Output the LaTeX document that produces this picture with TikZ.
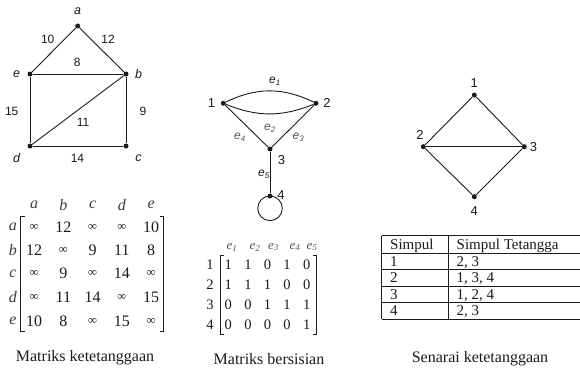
\documentclass[tikz,border=0pt]{standalone}
\usepackage{fontspec}
\setmainfont{Liberation Serif}
\newfontfamily\lsans{Liberation Sans}
\usetikzlibrary{positioning}
\definecolor{Ink}{HTML}{1A1A1A}
\definecolor{Soft}{HTML}{5A5A5A}
\newcommand\tak{{\fontsize{12.5}{14}\selectfont ∞}}
\tikzset{
  vtx/.style={circle,fill=Ink,inner sep=0pt,minimum size=5pt},
  edge/.style={draw=Ink,line width=0.9pt},
  glabel/.style={font=\lsans\fontsize{12}{14}\selectfont,text=Ink,inner sep=0pt},
  vlabel/.style={font=\lsans\itshape\fontsize{12.5}{14}\selectfont,text=Ink,inner sep=0pt},
  nlabel/.style={font=\lsans\fontsize{13}{15}\selectfont,text=Ink,inner sep=0pt},
  elabel/.style={font=\lsans\itshape\fontsize{12}{14}\selectfont,text=Ink,inner sep=0pt},
  mentry/.style={font=\fontsize{16}{18}\selectfont,text=Ink,inner sep=0pt},
  mhead/.style={font=\itshape\fontsize{16}{18}\selectfont,text=Ink!85,inner sep=0pt},
  bentry/.style={font=\fontsize{14.5}{16}\selectfont,text=Ink,inner sep=0pt},
  bhead/.style={font=\itshape\fontsize{13}{15}\selectfont,text=Soft,inner sep=0pt},
  tcell/.style={font=\fontsize{15}{17}\selectfont,text=Ink,inner sep=0pt,anchor=base west},
  caption/.style={font=\fontsize{16}{18}\selectfont,text=Ink,inner sep=0pt},
  bracket/.style={draw=Ink,line width=0.8pt},
  rule/.style={draw=Ink,line width=0.8pt}
}
\begin{document}
\begin{tikzpicture}[x=1pt,y=-1pt]
\useasboundingbox (0,0) rectangle (580,369);
% graf berbobot
\node[vtx] (a) at (77.7,26) {};
\node[vtx] (e) at (30,74) {};
\node[vtx] (b) at (126,74) {};
\node[vtx] (d) at (30,146) {};
\node[vtx] (c) at (126,146) {};
\node[vlabel] (la) at (77.7,11.5) {a};
\node[vlabel] (le) at (16.5,74) {e};
\node[vlabel] (lb) at (138.5,74) {b};
\node[vlabel] (ld) at (16.5,158) {d};
\node[vlabel] (lc) at (138.5,158) {c};
\draw[edge] (a) -- (e);
\draw[edge] (a) -- (b);
\draw[edge] (e) -- (b);
\draw[edge] (e) -- (d);
\draw[edge] (b) -- (c);
\draw[edge] (b) -- (d);
\draw[edge] (d) -- (c);
\node[glabel] (w10) at (47.7,39.3) {10};
\node[glabel] (w12) at (108,39.3) {12};
\node[glabel] (w8) at (77.3,62.5) {8};
\node[glabel] (w15) at (11.7,111) {15};
\node[glabel] (w9) at (143,111) {9};
\node[glabel] (w11) at (83,122) {11};
\node[glabel] (w14) at (77.5,158) {14};
% matriks ketetanggaan
\foreach \h [count=\c] in {a,b,c,d,e}
  \node[mhead] (A-h-\c) at ({34+29.3*(\c-1)},205) {\h};
\foreach \r/\y/\vals in {a/227/{\tak,12,\tak,\tak,10},b/250/{12,\tak,9,11,8},c/273.5/{\tak,9,\tak,14,\tak},d/297/{\tak,11,14,\tak,15},e/321/{10,8,\tak,15,\tak}}{
  \node[mhead] (A-\r) at (13,\y) {\r};
  \foreach \v [count=\c] in \vals
    \node[mentry] (A-\r-\c) at ({34+29.3*(\c-1)},\y) {\v};
}
\draw[bracket] (24.5,216) -- (20.7,216) -- (20.7,331) -- (24.5,331);
\draw[bracket] (159.5,216) -- (163.3,216) -- (163.3,331) -- (159.5,331);
\node[caption] (cap1) at (85,358) {Matriks ketetanggaan};
% graf dengan sisi ganda dan gelang
\node[vtx] (v1) at (223.3,103.3) {};
\node[vtx] (v2) at (316,103.3) {};
\node[vtx] (v3) at (270,149) {};
\node[vtx] (v4) at (270,196) {};
\node[nlabel] (l1) at (211.5,103) {1};
\node[nlabel] (l2) at (327,103) {2};
\node[nlabel] (l3) at (281.5,160) {3};
\node[nlabel] (l4) at (281,195) {4};
\draw[edge] (v1) to[bend left=26] (v2);
\draw[edge] (v1) to[bend right=22] (v2);
\draw[edge] (v1) -- (v3);
\draw[edge] (v2) -- (v3);
\draw[edge] (v3) -- (v4);
\draw[edge] (v4.center) arc[start angle=270,end angle=630,radius=12.3];
\node[elabel] (e1) at (275,81.5) {e\textsubscript{1}};
\node[elabel,text=Soft] (e2) at (270,128) {e\textsubscript{2}};
\node[elabel,text=Soft] (e3) at (298.5,137) {e\textsubscript{3}};
\node[elabel,text=Soft] (e4) at (240,137) {e\textsubscript{4}};
\node[elabel] (e5) at (264,174) {e\textsubscript{5}};
% matriks bersisian
\foreach \x [count=\c] in {232,255,273.5,295,312}
  \node[bhead] (B-h-\c) at (\x,247) {e\textsubscript{\c}};
\foreach \r/\y/\vals in {1/264.5/{1,1,0,1,0},2/285/{1,1,1,0,0},3/305/{0,0,1,1,1},4/325/{0,0,0,0,1}}{
  \node[bentry] (B-\r) at (210,\y) {\r};
  \foreach \v [count=\c] in \vals
    \node[bentry] (B-\r-\c) at ({228.3+19.6*(\c-1)},\y) {\v};
}
\draw[bracket] (223.5,255) -- (220,255) -- (220,334.5) -- (223.5,334.5);
\draw[bracket] (312.5,255) -- (316,255) -- (316,334.5) -- (312.5,334.5);
\node[caption] (cap2) at (269,359) {Matriks bersisian};
% graf sederhana
\node[vtx] (s1) at (474.3,95) {};
\node[vtx] (s2) at (423.3,146.7) {};
\node[vtx] (s3) at (524.3,146.7) {};
\node[vtx] (s4) at (474.3,196.7) {};
\node[nlabel] (m1) at (474.3,83) {1};
\node[nlabel] (m2) at (420,135) {2};
\node[nlabel] (m3) at (533.5,147) {3};
\node[nlabel] (m4) at (474.3,211.5) {4};
\draw[edge] (s1) -- (s2);
\draw[edge] (s1) -- (s3);
\draw[edge] (s2) -- (s3);
\draw[edge] (s2) -- (s4);
\draw[edge] (s3) -- (s4);
% senarai ketetanggaan
\draw[rule,line width=1.3pt] (381.7,235.7) -- (580,235.7);
\foreach \y in {253.3,269.8,286.3,302.8}
  \draw[rule] (381.7,\y) -- (580,\y);
\draw[rule,line width=1.3pt] (381.7,319.3) -- (580,319.3);
\draw[rule] (381.7,235.7) -- (381.7,319.3);
\draw[rule,line width=1.2pt] (448.5,235.7) -- (448.5,319.3);
\node[tcell] (T-h-1) at (390,249.5) {Simpul};
\node[tcell] (T-h-2) at (456.5,249.5) {Simpul Tetangga};
\foreach \r/\y/\adj in {1/266/{2, 3},2/282.5/{1, 3, 4},3/299/{1, 2, 4},4/315.5/{2, 3}}{
  \node[tcell] (T-\r-1) at (390,\y) {\r};
  \node[tcell] (T-\r-2) at (456.5,\y) {\adj};
}
\node[caption] (cap3) at (480,359) {Senarai ketetanggaan};
\end{tikzpicture}
\end{document}
